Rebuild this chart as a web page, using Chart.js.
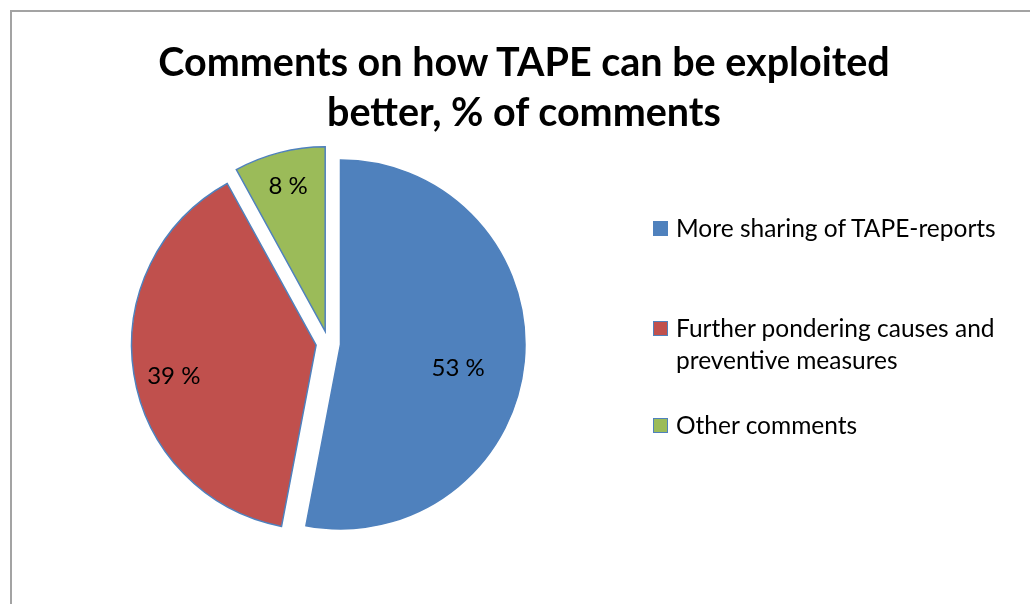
<!DOCTYPE html>
<html>
<head>
<meta charset="utf-8">
<script src="https://cdn.jsdelivr.net/npm/chart.js@4/dist/chart.umd.min.js"></script>
<style>
    html, body {
        margin: 0;
        padding: 0;
        background: #ffffff;
        overflow: hidden;
    }
    #page {
        position: relative;
        width: 1030px;
        height: 604px;
        font-family: Lato, "Open Sans", sans-serif;
    }
    #frame {
        position: absolute;
        left: 10px;
        top: 10px;
        width: 1100px;
        height: 700px;
        border-top: 2px solid #a3a3a3;
        border-left: 2px solid #a3a3a3;
    }
    #pie {
        position: absolute;
        left: 0;
        top: 0;
    }
    #title {
        position: absolute;
        left: 24px;
        width: 1000px;
        top: 36px;
        text-align: center;
        font-weight: bold;
        font-size: 39.5px;
        line-height: 50px;
        color: #000;
    }
    #legend {
        position: absolute;
        left: 653px;
        top: 212px;
        width: 370px;
        font-size: 24.5px;
        line-height: 32px;
        color: #000;
    }
    .item {
        position: relative;
        padding-left: 23px;
    }
    .item + .item {
        margin-top: 68px;
    }
    .item:last-child {
        margin-top: 33px;
    }
    .swatch {
        position: absolute;
        left: 0;
        top: 9px;
        width: 13px;
        height: 13px;
        border: 1px solid #4f81bd;
    }
</style>
</head>
<body>
<div id="page">
    <div id="frame"></div>
    <canvas id="pie" width="1030" height="604"></canvas>
    <div id="title"></div>
    <div id="legend"></div>
</div>
<script>
// Chart data
const titleLines = ['Comments on how TAPE can be exploited', 'better, % of comments'];
const categories = ['More sharing of TAPE-reports', 'Further pondering causes and preventive measures', 'Other comments'];
const shares = [53, 39, 8];
const sliceColors = ['#4f81bd', '#c0504d', '#9bbb59'];

// Pulls every slice outward along its bisector, then lets the arc draw itself
const explodePlugin = {
    id: 'explode',
    beforeDatasetDraw(chart, args, opts) {
        const ctx = chart.ctx;
        args.meta.data.forEach(arc => {
            const mid = (arc.startAngle + arc.endAngle) / 2;
            ctx.save();
            ctx.translate(Math.cos(mid) * opts.distance, Math.sin(mid) * opts.distance);
            arc.draw(ctx);
            ctx.restore();
        });
        return false;
    }
};

// Percent labels inside each slice (radius fraction + small angle nudge in degrees)
const sliceLabels = {
    id: 'sliceLabels',
    afterDatasetsDraw(chart, args, opts) {
        const ctx = chart.ctx;
        const dist = chart.options.plugins.explode.distance;
        const values = chart.data.datasets[0].data;
        chart.getDatasetMeta(0).data.forEach((arc, i) => {
            const mid = (arc.startAngle + arc.endAngle) / 2;
            const [frac, nudge] = opts.position[i];
            const a = mid + nudge * Math.PI / 180;
            const cx = arc.x + Math.cos(mid) * dist;
            const cy = arc.y + Math.sin(mid) * dist;
            const r = arc.outerRadius * frac;
            ctx.save();
            ctx.font = opts.font;
            ctx.fillStyle = '#000';
            ctx.textAlign = 'center';
            ctx.textBaseline = 'middle';
            ctx.fillText(values[i] + ' %', cx + Math.cos(a) * r, cy + Math.sin(a) * r);
            ctx.restore();
        });
    }
};

document.getElementById('title').innerHTML = titleLines.join('<br>');

const chart = new Chart(document.getElementById('pie'), {
    type: 'pie',
    data: {
        labels: categories,
        datasets: [{
            data: shares,
            backgroundColor: sliceColors,
            borderColor: '#4f81bd',
            borderWidth: 1.5,
            hoverBorderWidth: 1.5,
            borderJoinStyle: 'miter'
        }]
    },
    options: {
        responsive: false,
        animation: false,
        events: [],
        layout: {
            padding: { left: 143, top: 158, right: 516.5, bottom: 75.5 }
        },
        plugins: {
            legend: { display: false },
            title: { display: false },
            tooltip: { enabled: false },
            explode: { distance: 12.3 },
            sliceLabels: {
                font: '24px Lato, "Open Sans", sans-serif',
                position: [[0.65, 5.9], [0.79, -3.5], [0.81, 0]]
            }
        }
    },
    plugins: [explodePlugin, sliceLabels]
});

// HTML legend built from the chart's own labels and colours
const legend = document.getElementById('legend');
chart.data.labels.forEach((label, i) => {
    const item = document.createElement('div');
    item.className = 'item';
    item.innerHTML = `<span class="swatch" style="background:${sliceColors[i]}"></span>${label}`;
    legend.appendChild(item);
});
</script>
</body>
</html>
